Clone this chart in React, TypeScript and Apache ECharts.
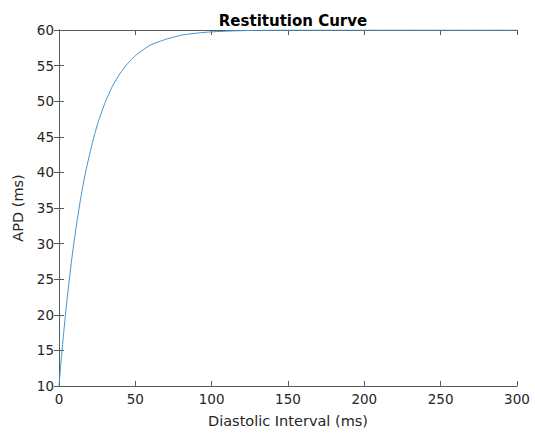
import React, { useEffect, useRef } from "react";
import * as echarts from "echarts";

// Values
const diastolicInterval = [0, 1, 2, 3, 4, 5, 6, 8, 10, 12, 14, 16, 18, 20, 23, 26, 30, 35, 40, 45, 50, 55, 60, 70, 80, 90, 100, 115, 130, 150, 200, 250, 300];
const apd = [10, 12.6, 15, 17.3, 19.5, 21.6, 23.5, 27.2, 30.5, 33.4, 36.1, 38.5, 40.6, 42.5, 45.1, 47.3, 49.7, 52.1, 53.9, 55.3, 56.4, 57.2, 57.9, 58.7, 59.26, 59.56, 59.74, 59.88, 59.95, 60, 60, 60, 60];
const xTicks = [0, 50, 100, 150, 200, 250, 300];
const yTicks = [10, 15, 20, 25, 30, 35, 40, 45, 50, 55, 60];

const FONT = "DejaVu Sans";
const TEXT = "#262626";
const AXIS = "#5a5a5a";

export default function App() {
  const ref = useRef<HTMLDivElement>(null);
  useEffect(() => {
    if (!ref.current) return;
    const chart = echarts.init(ref.current, undefined, { renderer: "svg", width: 535, height: 433 });
    const data = diastolicInterval.map((d, i) => [d, apd[i]]);
    const baseX = {
      type: "value" as const,
      min: xTicks[0],
      max: xTicks[xTicks.length - 1],
      interval: xTicks[1] - xTicks[0],
      splitLine: { show: false },
      axisLine: { show: true, lineStyle: { color: AXIS, width: 1 } },
      axisTick: { show: true, inside: true, length: 5, lineStyle: { color: AXIS } },
    };
    const baseY = {
      type: "value" as const,
      min: yTicks[0],
      max: yTicks[yTicks.length - 1],
      interval: yTicks[1] - yTicks[0],
      splitLine: { show: false },
      axisLine: { show: true, lineStyle: { color: AXIS, width: 1 } },
      axisTick: { show: true, inside: true, length: 5, lineStyle: { color: AXIS } },
    };
    chart.setOption({
      animation: false,
      backgroundColor: "#ffffff",
      title: {
        text: "Restitution Curve",
        left: 288,
        top: 8,
        textAlign: "center",
        textStyle: { fontFamily: FONT, fontSize: 15, fontWeight: "bold", color: "#000" },
      },
      grid: { left: 59, top: 30, width: 458, height: 361 },
      xAxis: [
        {
          ...baseX,
          position: "bottom",
          name: "Diastolic Interval (ms)",
          nameLocation: "middle",
          nameGap: 27,
          nameTextStyle: { fontFamily: FONT, fontSize: 14.5, color: TEXT },
          axisLabel: { show: true, margin: 6, fontFamily: FONT, fontSize: 13.5, color: TEXT },
        },
        { ...baseX, position: "top", axisLabel: { show: false } },
      ],
      yAxis: [
        {
          ...baseY,
          position: "left",
          name: "APD (ms)",
          nameLocation: "middle",
          nameGap: 28,
          nameTextStyle: { fontFamily: FONT, fontSize: 14.5, color: TEXT },
          axisLabel: { show: true, margin: 5, fontFamily: FONT, fontSize: 13.5, color: TEXT },
        },
        { ...baseY, position: "right", axisLabel: { show: false } },
      ],
      series: [
        {
          type: "line",
          data,
          xAxisIndex: 0,
          yAxisIndex: 0,
          showSymbol: false,
          smooth: 0.2,
          lineStyle: { color: "#3d92d2", width: 1 },
        },
      ],
    });
    return () => chart.dispose();
  }, []);
  return (
    <div
      ref={ref}
      style={{ position: "fixed", left: 0, top: 0, width: 535, height: 433 }}
    />
  );
}
